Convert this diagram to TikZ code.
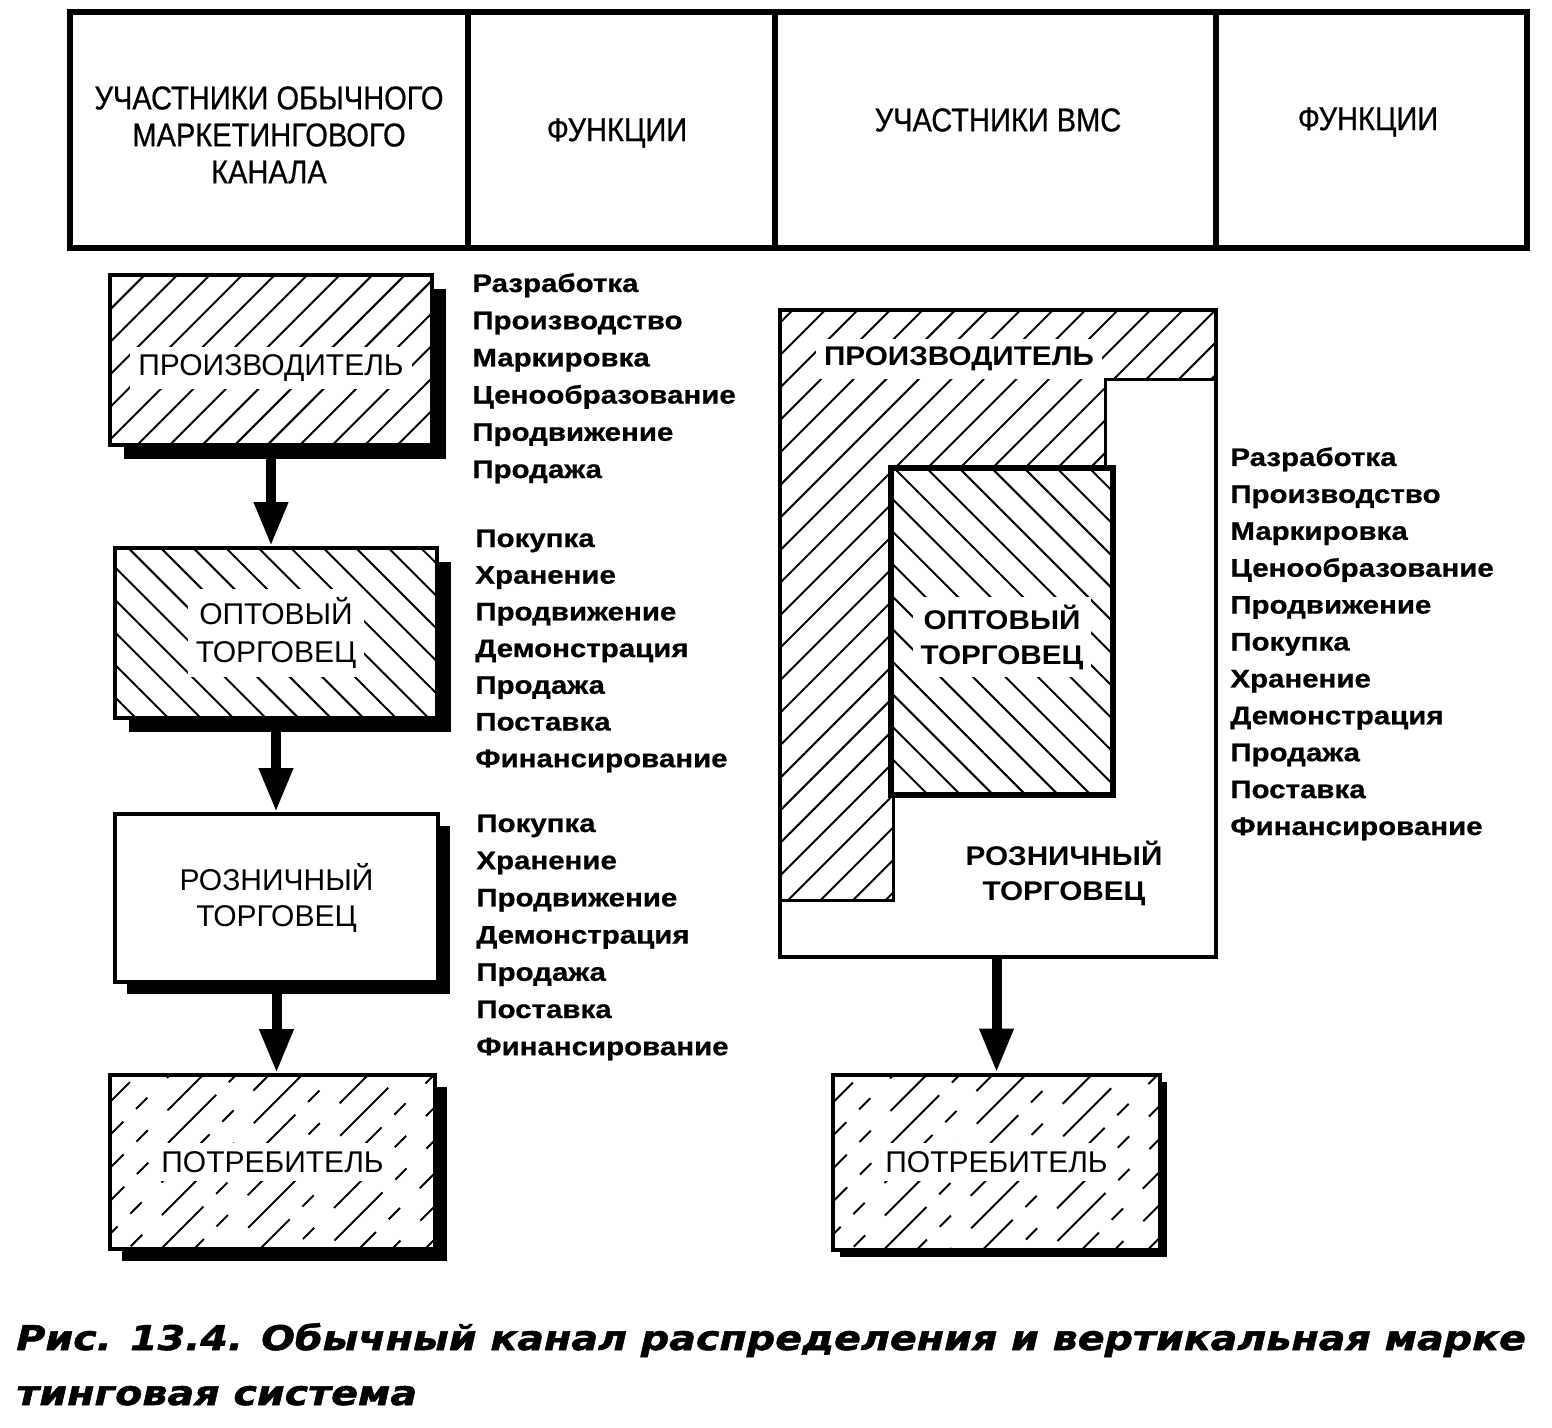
\documentclass[tikz,border=0pt]{standalone}
\usepackage{fontspec}
\setmainfont{Liberation Sans}
\newfontfamily\headfont[FakeStretch=0.88, FakeBold=0.6]{Liberation Sans}
\newfontfamily\funcfont[FakeStretch=1.16, FakeBold=0.8]{Liberation Sans Bold}
\newfontfamily\vmsfont[FakeStretch=1.1]{Liberation Sans Bold}
\newfontfamily\capfont[FakeStretch=1.165, FakeBold=1.6]{DejaVu Sans Bold Oblique}
\usetikzlibrary{patterns.meta,arrows.meta,shadows}

\tikzset{
	hcell/.style={draw, line width=3pt, minimum height=118pt, inner sep=0pt},
	htext/.style={font=\headfont\fontsize{16.5}{18.5}\selectfont, align=center},
	box/.style={draw, line width=2pt, fill=white, inner sep=0pt},
	shade/.style={drop shadow={shadow xshift=#1, shadow yshift=-#1, fill=black, opacity=1}},
	hatchne/.style={postaction={pattern={Lines[angle=45, distance=11.5pt, line width=1pt]}}},
	hatchnw/.style={postaction={pattern={Lines[angle=-45, distance=11.5pt, line width=1pt]}}},
	brokenhatch/.style={path picture={
		\foreach \k [count=\j] in {-90,-73.5,...,170}{
			\pgfmathsetmacro\ph{mod(\j*23,60)}
			\draw[line width=1pt, dash pattern=on 34pt off 9pt on 8pt off 14pt, dash phase=\ph pt]
				([xshift=\k pt]path picture bounding box.south west) -- ++(120pt,120pt);}}},
	tag/.style={fill=white, inner sep=4pt, align=center, font=\fontsize{15}{19}\selectfont},
	vtag/.style={fill=white, inner sep=4pt, align=center, font=\vmsfont\fontsize{13.5}{17.5}\selectfont},
	func/.style={anchor=base west, inner sep=0pt, font=\funcfont\fontsize{12.7}{15}\selectfont},
	flow/.style={line width=5pt, -{Triangle[width=16pt, length=22pt]}},
}

\begin{document}
\begin{tikzpicture}[x=0.5pt, y=-0.5pt]
	\useasboundingbox (0,0) rectangle (1552,1428);

	% header
	\node[hcell, minimum width=199pt] (h1) at (269,130) {};
	\node[hcell, minimum width=153.5pt] (h2) at (621.5,130) {};
	\node[hcell, minimum width=220.5pt] (h3) at (995.5,130) {};
	\node[hcell, minimum width=155.5pt] (h4) at (1371.5,130) {};
	\node[htext] (t1) at (269,135) {УЧАСТНИКИ ОБЫЧНОГО\\МАРКЕТИНГОВОГО\\КАНАЛА};
	\node[htext] (t2) at (617,133) {ФУНКЦИИ};
	\node[htext] (t3) at (998,120) {УЧАСТНИКИ ВМС};
	\node[htext] (t4) at (1368,122) {ФУНКЦИИ};

	% conventional channel
	\node[box, shade=7pt, hatchne, minimum width=161pt, minimum height=85pt,
		label={[tag, yshift=-4pt]center:ПРОИЗВОДИТЕЛЬ}] (prod) at (271,360) {};
	\node[box, shade=7pt, hatchnw, minimum width=161pt, minimum height=85pt,
		label={[tag]center:ОПТОВЫЙ\\ТОРГОВЕЦ}] (whole) at (276,633) {};
	\node[box, shade=6pt, minimum width=161.5pt, minimum height=84pt, align=center,
		font=\fontsize{15}{18}\selectfont] (retail) at (276.5,898) {РОЗНИЧНЫЙ\\ТОРГОВЕЦ};
	\node[box, shade=6pt, brokenhatch, minimum width=162.5pt, minimum height=87pt,
		label={[tag]center:ПОТРЕБИТЕЛЬ}] (cons) at (272.5,1162) {};

	\draw[flow] (prod.south) -- (prod.south |- whole.north);
	\draw[flow] (whole.south) -- (whole.south |- retail.north);
	\draw[flow] (retail.south) -- (retail.south |- cons.north);

	% functions
	\foreach \f [count=\i] in {Разработка, Производство, Маркировка, Ценообразование, Продвижение, Продажа}
		\node[func] (fa\i) at (472,{292+37.2*(\i-1)}) {\f};
	\foreach \f [count=\i] in {Покупка, Хранение, Продвижение, Демонстрация, Продажа, Поставка, Финансирование}
		\node[func] (fb\i) at (475,{547+36.7*(\i-1)}) {\f};
	\foreach \f [count=\i] in {Покупка, Хранение, Продвижение, Демонстрация, Продажа, Поставка, Финансирование}
		\node[func] (fc\i) at (476,{832+37.2*(\i-1)}) {\f};
	\foreach \f [count=\i] in {Разработка, Производство, Маркировка, Ценообразование, Продвижение,
		Покупка, Хранение, Демонстрация, Продажа, Поставка, Финансирование}
		\node[func] (fd\i) at (1230,{466+36.9*(\i-1)}) {\f};

	% vertical marketing system
	\node[draw, line width=2pt, fill=white, minimum width=218pt, minimum height=323.5pt] (vms) at (998,633.5) {};
	\draw[line width=1.5pt, pattern={Lines[angle=45, distance=11.5pt, line width=1pt]}]
		(780,310) -| (1216,380) -| (1105,468) -| (893,900) -| cycle;
	\node[draw, line width=3pt, fill=white, hatchnw, minimum width=111pt, minimum height=163.5pt,
		label={[vtag, yshift=-3pt]center:ОПТОВЫЙ\\ТОРГОВЕЦ}] (vwhole) at (1002,631) {};
	\node[vtag] (vprod) at (959,359) {ПРОИЗВОДИТЕЛЬ};
	\node[vtag] (vretail) at (1064,873) {РОЗНИЧНЫЙ\\ТОРГОВЕЦ};
	\node[draw, line width=2pt, minimum width=218pt, minimum height=323.5pt] (vframe) at (vms.center) {};

	\node[box, shade=3.5pt, brokenhatch, minimum width=163.5pt, minimum height=87.5pt,
		label={[tag]center:ПОТРЕБИТЕЛЬ}] (vcons) at (996.5,1162) {};
	\draw[flow] (vcons.north |- vms.south) -- (vcons.north);

	% caption
	\node[anchor=base west, inner sep=0pt, font=\capfont\fontsize{17}{20}\selectfont]
		(cap1) at (16,1350) {Рис. 13.4. Обычный канал распределения и вертикальная марке};
	\node[anchor=base west, inner sep=0pt, font=\capfont\fontsize{17}{20}\selectfont]
		(cap2) at (16,1405) {тинговая система};
\end{tikzpicture}
\end{document}
